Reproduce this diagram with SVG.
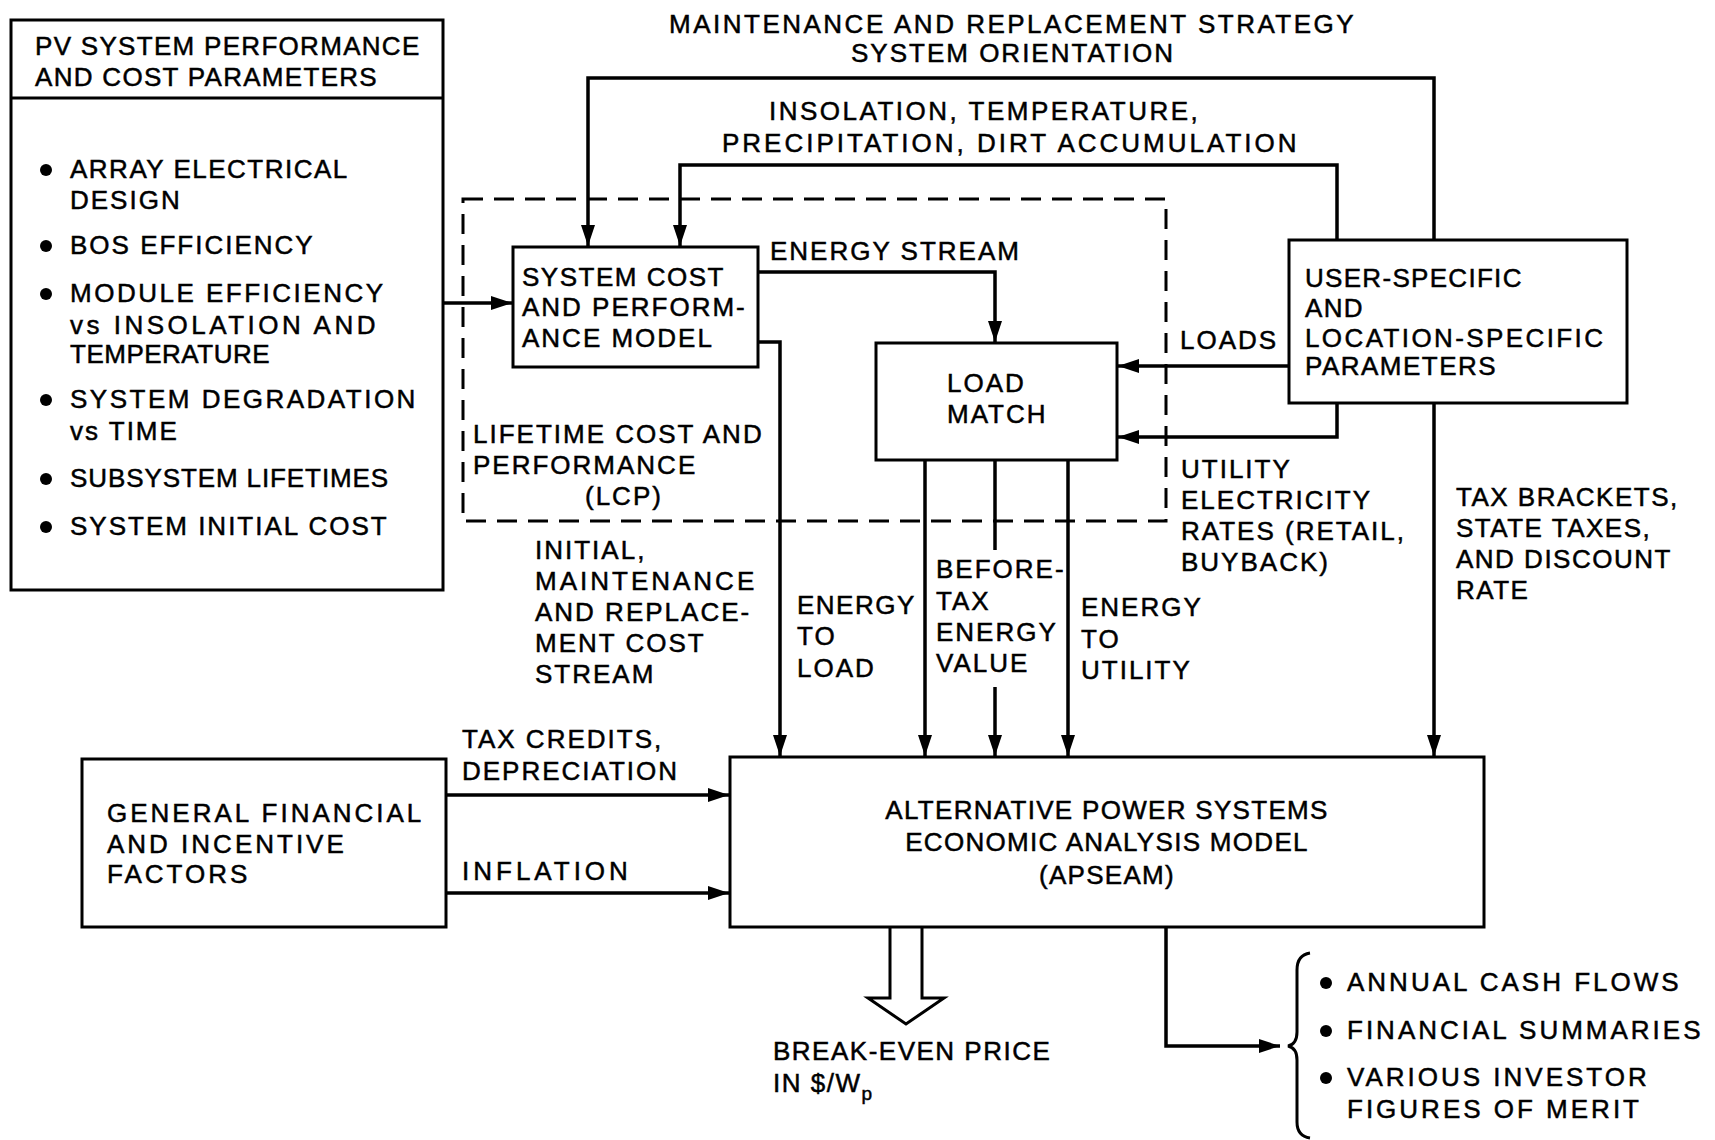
<svg xmlns="http://www.w3.org/2000/svg" width="1715" height="1140" viewBox="0 0 1715 1140">
<defs>
<marker id="ah" markerUnits="userSpaceOnUse" markerWidth="22" markerHeight="16" refX="21" refY="8" orient="auto">
<path d="M0,1 L21,8 L0,15 z" fill="#000"/>
</marker>
<style>
text{font-family:"Liberation Sans",Arial,sans-serif;font-size:26px;letter-spacing:2px;fill:#000;stroke:#000;stroke-width:0.5px}
.top{letter-spacing:2.5px}
.t1{letter-spacing:1.3px}
.t15{letter-spacing:1.5px}
.t3{letter-spacing:3px}
.t4{letter-spacing:4px}
.box{fill:#fff;stroke:#000;stroke-width:3}
.ln{fill:none;stroke:#000;stroke-width:3.5}
.dash{fill:none;stroke:#000;stroke-width:3;stroke-dasharray:20 11}
.mid{text-anchor:middle}
</style>
</defs>
<rect width="1715" height="1140" fill="#fff"/>

<g id="lcp-boundary">
<rect class="dash" x="463" y="199" width="703" height="322"/>
<text x="473" y="443">LIFETIME COST AND</text>
<text x="473" y="474">PERFORMANCE</text>
<text x="585" y="505">(LCP)</text>
</g>

<g id="connectors">
<path class="ln" d="M1434,240 V78 H588 V246" marker-end="url(#ah)"/>
<path class="ln" d="M1337,240 V165 H680 V246" marker-end="url(#ah)"/>
<path class="ln" d="M443,303 H512" marker-end="url(#ah)"/>
<path class="ln" d="M758,272 H995 V342" marker-end="url(#ah)"/>
<path class="ln" d="M1289,366 H1118" marker-end="url(#ah)"/>
<path class="ln" d="M1337,403 V437 H1118" marker-end="url(#ah)"/>
<path class="ln" d="M1434,403 V756" marker-end="url(#ah)"/>
<path class="ln" d="M758,342 H780 V756" marker-end="url(#ah)"/>
<path class="ln" d="M925,460 V756" marker-end="url(#ah)"/>
<path class="ln" d="M995,460 V550"/>
<path class="ln" d="M995,687 V756" marker-end="url(#ah)"/>
<path class="ln" d="M1068,460 V756" marker-end="url(#ah)"/>
<path class="ln" d="M446,795 H729" marker-end="url(#ah)"/>
<path class="ln" d="M446,893 H729" marker-end="url(#ah)"/>
<path class="ln" d="M1166,927 V1046 H1280" marker-end="url(#ah)"/>
<path fill="#fff" stroke="#000" stroke-width="3" d="M890,927 V998 H868 L906,1024 L944,998 H922 V927"/>
<path fill="none" stroke="#000" stroke-width="3" d="M1310,953 Q1297,955 1297,970 V1032 Q1297,1044 1288,1046 Q1297,1048 1297,1060 V1122 Q1297,1136 1310,1138"/>
</g>

<g id="labels">
<text class="top" x="669" y="33">MAINTENANCE AND REPLACEMENT STRATEGY</text>
<text x="851" y="62">SYSTEM ORIENTATION</text>
<text class="top" x="769" y="120">INSOLATION, TEMPERATURE,</text>
<text class="t3" x="722" y="152">PRECIPITATION, DIRT ACCUMULATION</text>
<text x="770" y="260">ENERGY STREAM</text>
<text x="1180" y="349">LOADS</text>
<text x="1181" y="478">UTILITY</text>
<text x="1181" y="509">ELECTRICITY</text>
<text x="1181" y="540">RATES (RETAIL,</text>
<text x="1181" y="571">BUYBACK)</text>
<text class="t15" x="1456" y="506">TAX BRACKETS,</text>
<text class="t15" x="1456" y="537">STATE TAXES,</text>
<text class="t15" x="1456" y="568">AND DISCOUNT</text>
<text class="t15" x="1456" y="599">RATE</text>
<text x="535" y="559">INITIAL,</text>
<text class="t3" x="535" y="590">MAINTENANCE</text>
<text x="535" y="621">AND REPLACE-</text>
<text x="535" y="652">MENT COST</text>
<text x="535" y="683">STREAM</text>
<text class="t15" x="797" y="614">ENERGY</text>
<text x="797" y="645">TO</text>
<text x="797" y="677">LOAD</text>
<text x="936" y="578">BEFORE-</text>
<text x="936" y="610">TAX</text>
<text x="936" y="641">ENERGY</text>
<text x="936" y="672">VALUE</text>
<text x="1081" y="616">ENERGY</text>
<text x="1081" y="648">TO</text>
<text x="1081" y="679">UTILITY</text>
<text x="462" y="748">TAX CREDITS,</text>
<text x="462" y="780">DEPRECIATION</text>
<text class="t4" x="462" y="880">INFLATION</text>
<text class="t15" x="773" y="1060">BREAK-EVEN PRICE</text>
<text class="t15" x="773" y="1092">IN $/W<tspan dy="8" font-size="19">p</tspan></text>
</g>

<g id="pv-parameters">
<rect class="box" x="11" y="20" width="432" height="570"/>
<line x1="11" y1="98" x2="443" y2="98" stroke="#000" stroke-width="3"/>
<text class="t1" x="35" y="55">PV SYSTEM PERFORMANCE</text>
<text class="t1" x="35" y="86">AND COST PARAMETERS</text>
<circle cx="46" cy="170" r="6"/>
<text class="t15" x="70" y="178">ARRAY ELECTRICAL</text>
<text x="70" y="209">DESIGN</text>
<circle cx="46" cy="246" r="6"/>
<text x="70" y="254">BOS EFFICIENCY</text>
<circle cx="46" cy="294" r="6"/>
<text style="letter-spacing:2.5px" x="70" y="302">MODULE EFFICIENCY</text>
<text style="letter-spacing:3.5px" x="70" y="334">vs INSOLATION AND</text>
<text style="letter-spacing:0.5px" x="70" y="363">TEMPERATURE</text>
<circle cx="46" cy="400" r="6"/>
<text style="letter-spacing:2.5px" x="70" y="408">SYSTEM DEGRADATION</text>
<text x="70" y="440">vs TIME</text>
<circle cx="46" cy="479" r="6"/>
<text style="letter-spacing:0.9px" x="70" y="487">SUBSYSTEM LIFETIMES</text>
<circle cx="46" cy="527" r="6"/>
<text x="70" y="535">SYSTEM INITIAL COST</text>
</g>

<g id="system-cost-model">
<rect class="box" x="513" y="247" width="245" height="120"/>
<text class="t15" x="522" y="286">SYSTEM COST</text>
<text x="522" y="316">AND PERFORM-</text>
<text x="522" y="347">ANCE MODEL</text>
</g>

<g id="load-match">
<rect class="box" x="876" y="343" width="241" height="117"/>
<text x="947" y="392">LOAD</text>
<text x="947" y="423">MATCH</text>
</g>

<g id="user-location-parameters">
<rect class="box" x="1289" y="240" width="338" height="163"/>
<text class="t1" x="1305" y="287">USER-SPECIFIC</text>
<text class="t1" x="1305" y="317">AND</text>
<text style="letter-spacing:2.4px" x="1305" y="347">LOCATION-SPECIFIC</text>
<text class="t15" x="1305" y="375">PARAMETERS</text>
</g>

<g id="general-financial">
<rect class="box" x="82" y="759" width="364" height="168"/>
<text class="t3" x="107" y="822">GENERAL FINANCIAL</text>
<text class="t3" x="107" y="853">AND INCENTIVE</text>
<text class="t3" x="107" y="883">FACTORS</text>
</g>

<g id="apseam">
<rect class="box" x="730" y="757" width="754" height="170"/>
<text class="mid t1" x="1107" y="819">ALTERNATIVE POWER SYSTEMS</text>
<text class="mid t1" x="1107" y="851">ECONOMIC ANALYSIS MODEL</text>
<text class="mid t1" x="1107" y="884">(APSEAM)</text>
</g>

<g id="outputs">
<circle cx="1326" cy="983" r="6"/>
<text class="t3" x="1347" y="991">ANNUAL CASH FLOWS</text>
<circle cx="1326" cy="1031" r="6"/>
<text class="t3" x="1347" y="1039">FINANCIAL SUMMARIES</text>
<circle cx="1326" cy="1078" r="6"/>
<text class="t3" x="1347" y="1086">VARIOUS INVESTOR</text>
<text class="t3" x="1347" y="1118">FIGURES OF MERIT</text>
</g>
</svg>
